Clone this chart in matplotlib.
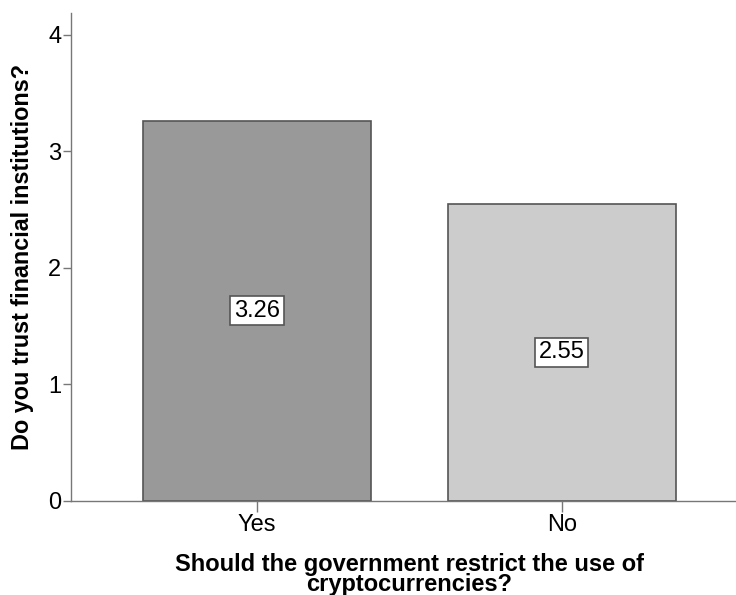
import matplotlib.pyplot as plt

# Data
categories = ['Yes', 'No']
values = [3.26, 2.55]
bar_colors = ['#999999', '#cccccc']

plt.rcParams['font.family'] = ['Liberation Sans', 'DejaVu Sans']

fig = plt.figure(figsize=(7.36, 5.95), dpi=100)
ax = fig.add_axes([71 / 736, 1 - 500.5 / 595, (748 - 71) / 736, (500.5 - 12.7) / 595])

x = list(range(len(categories)))
ax.bar(x, values, width=0.75, color=bar_colors, edgecolor='#555555', linewidth=1.2, zorder=2)

# value labels in boxes at half height
for xi, v in zip(x, values):
    ax.text(xi, v / 2, f'{v:.2f}', ha='center', va='center', fontsize=17,
            bbox=dict(boxstyle='square,pad=0.15', facecolor='white', edgecolor='#555555', linewidth=1.2),
            zorder=3)

ax.set_xlim(-0.61, 1.61)
ax.set_ylim(0, 4.19)
ax.set_xticks(x)
ax.set_xticklabels(categories)
ax.set_yticks([0, 1, 2, 3, 4])

for side in ['top', 'right']:
    ax.spines[side].set_visible(False)
for side in ['left', 'bottom']:
    ax.spines[side].set_color('#777777')
    ax.spines[side].set_linewidth(1.0)

ax.tick_params(axis='y', length=6, width=1, color='#777777', labelsize=17, pad=1)
ax.tick_params(axis='x', length=8, width=1, color='#777777', labelsize=17, pad=2)

ax.set_ylabel('Do you trust financial institutions?', fontsize=16.8, fontweight='bold', labelpad=10)
ax.set_xlabel('Should the government restrict the use of\ncryptocurrencies?', fontsize=17,
              fontweight='bold', linespacing=0.85, labelpad=12)

fig.savefig('out.png', dpi=100)
